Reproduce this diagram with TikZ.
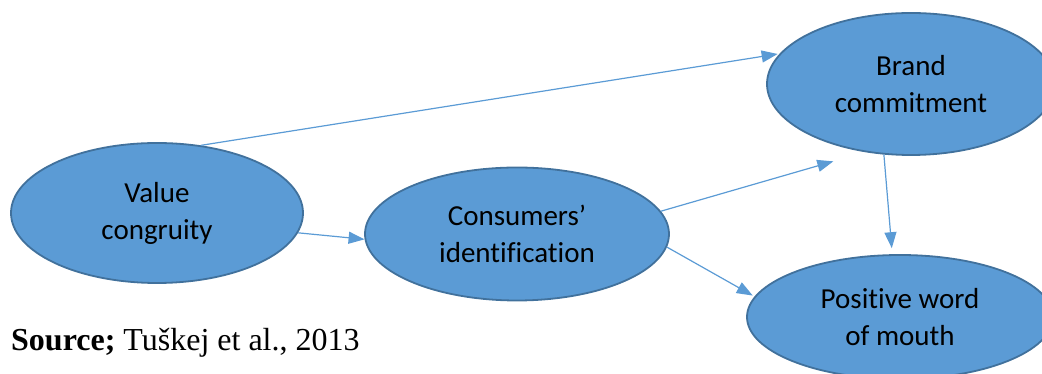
\documentclass[tikz,border=0pt]{standalone}
\usepackage{fontspec}
\setmainfont{Liberation Serif}
\newfontfamily\bubblefont[Ligatures=NoCommon]{Carlito}
\usetikzlibrary{arrows.meta,shapes.geometric}
\definecolor{bubblefill}{HTML}{5B9BD5}
\definecolor{bubbleline}{HTML}{41719C}
\definecolor{linkcol}{HTML}{5B9BD5}
\tikzset{
  x=1pt, y=1pt,
  bubble/.style={ellipse, draw=bubbleline, line width=1.8pt, fill=bubblefill,
    inner sep=0pt, align=center, text=black,
    font=\bubblefont\fontsize{29}{37}\selectfont},
  link/.style={draw=linkcol, line width=1.2pt,
    -{Triangle[length=16pt,width=12pt]}}
}
\begin{document}
\begin{tikzpicture}
\useasboundingbox (0,0) rectangle (1042,374);
% concepts
\node[bubble, minimum width=292pt, minimum height=140pt] (vc) at (157,161) {Value\\congruity};
\node[bubble, minimum width=304pt, minimum height=133pt] (ci) at (517,140) {Consumers’\\identification};
\node[bubble, minimum width=288pt, minimum height=142pt] (bc) at (911,290) {Brand\\commitment};
\node[bubble, minimum width=306pt, minimum height=124pt] (pw) at (900,57) {Positive word\\of mouth};
% paths
\draw[link, shorten >=2pt] (vc.57) -- (bc.167);
\draw[link] (vc.-8) -- (ci.182);
\draw[link, shorten >=33pt] (ci.9) -- (bc.236);
\draw[link, shorten >=2pt] (ci.-5) -- (pw.172);
\draw[link, shorten >=6pt] (bc.249) -- (pw.97);
% citation
\node[anchor=base west, inner sep=0pt, font=\fontsize{32}{37}\selectfont] (src) at (11,23)
  {\textbf{Source;} Tuškej et al., 2013};
\end{tikzpicture}
\end{document}
